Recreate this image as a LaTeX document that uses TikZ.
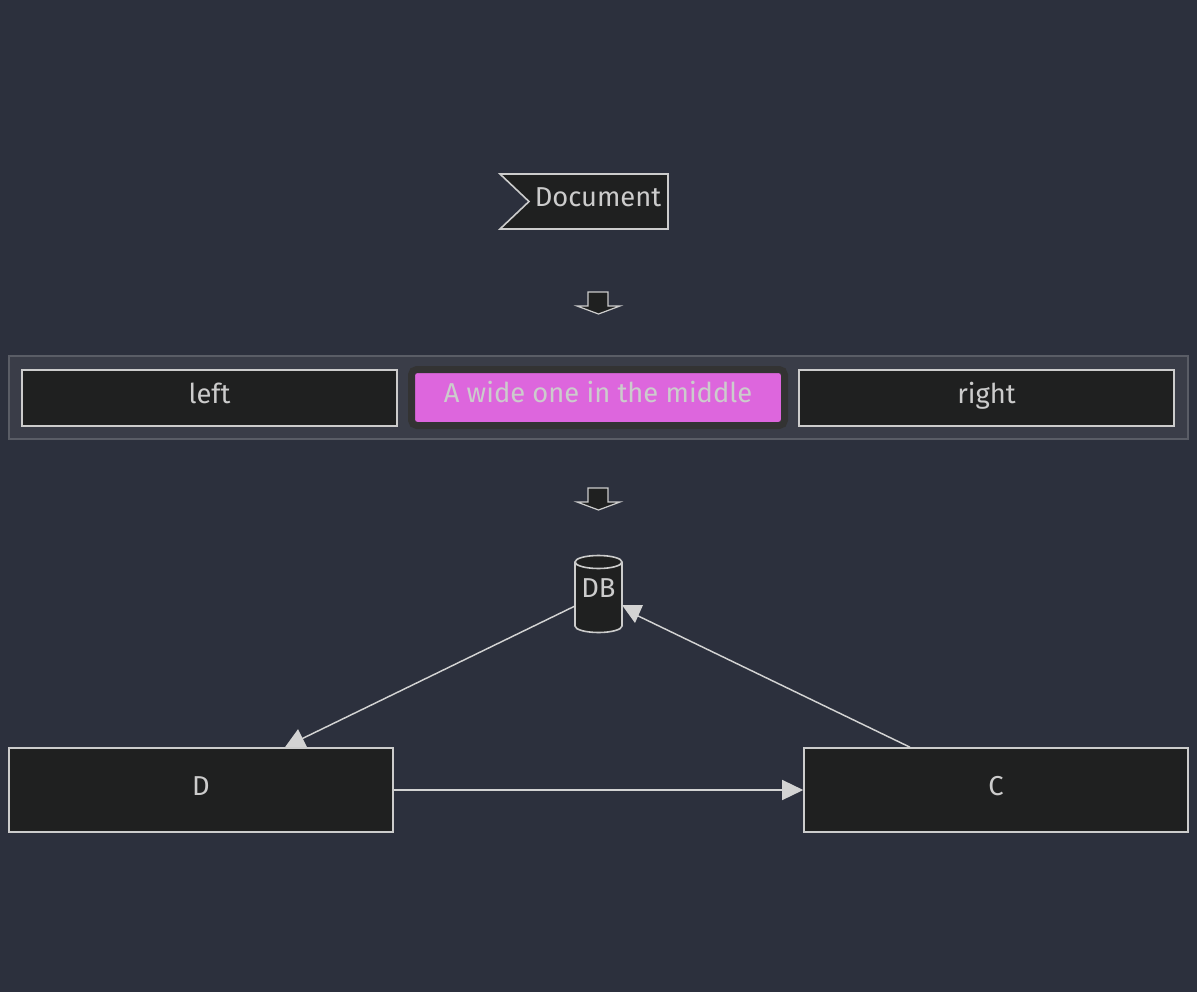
\documentclass[tikz,border=0pt]{standalone}
\usepackage{fontspec}
\setmainfont{Fira Sans}
\usetikzlibrary{arrows.meta,calc}
\definecolor{bgcol}{HTML}{2C303D}
\definecolor{nodefill}{HTML}{1F2020}
\definecolor{nodeline}{HTML}{CCCCCC}
\definecolor{txtcol}{HTML}{CCCCCC}
\definecolor{edgecol}{HTML}{D3D3D3}
\definecolor{grpfill}{HTML}{3A3D48}
\definecolor{grpline}{HTML}{5A5D66}
\definecolor{pinkfill}{HTML}{DD66DD}
\definecolor{pinkline}{HTML}{333333}
\tikzset{
  blk/.style={draw=nodeline, fill=nodefill, line width=1.2pt, text=txtcol,
    font=\fontsize{20.5}{24}\selectfont, inner sep=0pt,
    text height=0.75em, text depth=0em},
  lbl/.style={text=txtcol, font=\fontsize{20.5}{24}\selectfont, inner sep=0pt,
    text height=0.75em, text depth=0em},
  edge/.style={draw=edgecol, line width=1.1pt},
  tipmark/.style={fill=edgecol},
}
\begin{document}
\begin{tikzpicture}[x=0.75pt,y=-0.75pt]
  \fill[bgcol] (0,0) rectangle (1197,992);
  \useasboundingbox (0,0) rectangle (1197,992);
  % flag for the document
  \draw[blk] (500,174) -- (668,174) -- (668,229) -- (500,229) -- (529,201.5) -- cycle;
  \node[lbl] (doc) at (598,201.5) {Document};
  % block arrows
  \foreach \y in {292,488}
    \draw[blk, line width=0.9pt] (588,\y) -- (608,\y) -- (608,\y+14) -- (620,\y+14) -- (598.5,\y+22)
      -- (577,\y+14) -- (588,\y+14) -- cycle;
  % the row
  \node[draw=grpline, fill=grpfill, line width=1.2pt, minimum width=884.25pt,
    minimum height=62.25pt] (grp) at (598.5,397.5) {};
  \node[blk, minimum width=281.25pt, minimum height=42pt] (left) at (209.5,398) {left};
  \node[lbl, fill=pinkfill, draw=pinkline, line width=5.25pt, rounded corners=4pt,
    minimum width=279.75pt, minimum height=42pt] (mid) at (598,397.5) {A wide one in the middle};
  \node[blk, minimum width=281.25pt, minimum height=42pt] (right) at (986.5,398) {right};
  % database
  \filldraw[blk] (575,562) -- (575,626)
    arc[start angle=180, end angle=360, x radius=17.625pt, y radius=4.875pt] -- (622,562)
    arc[start angle=0, end angle=180, x radius=17.625pt, y radius=4.875pt] -- cycle;
  \draw[blk] (575,562) arc[start angle=180, end angle=360, x radius=17.625pt, y radius=4.875pt];
  \node[lbl, minimum width=35.25pt, minimum height=58.5pt] (db) at (598.5,592) {DB};
  % bottom boxes
  \node[blk, minimum width=288pt, minimum height=63pt] (d) at (201,790) {D};
  \node[blk, minimum width=288pt, minimum height=63pt] (c) at (996,790) {C};
  % edges
  \draw[edge] ($(db.center)+(-23.5,14)$) -- ($(d.north)+(100,-8)$);
  \fill[tipmark] ($(d.north)+(84,0)$) -- ($(d.north)+(106,0)$) -- ($(d.north)+(97,-18)$) -- cycle;
  \draw[edge, -{Triangle[length=15.75pt,width=15pt]}] (d.east) -- (c.west);
  \draw[edge] ($(c.north)+(-86,0)$) -- ($(db.center)+(33.5,21)$);
  \fill[tipmark] ($(db.center)+(23.5,13)$) -- ($(db.center)+(44.5,13)$) -- ($(db.center)+(36.5,31)$) -- cycle;
\end{tikzpicture}
\end{document}
